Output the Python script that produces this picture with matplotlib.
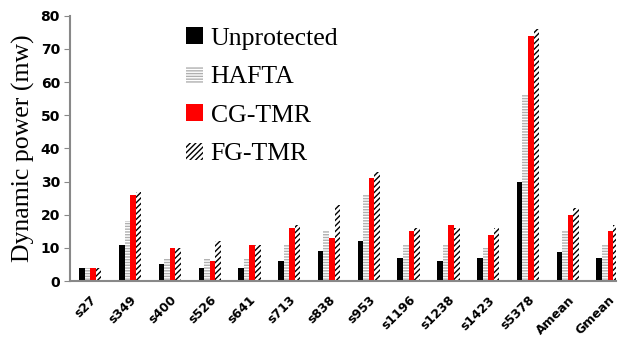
import numpy as np
import matplotlib.pyplot as plt

circuits = ['s27', 's349', 's400', 's526', 's641', 's713', 's838', 's953',
            's1196', 's1238', 's1423', 's5378', 'Amean', 'Gmean']
unprot = [4, 11, 5, 4, 4, 6, 9, 12, 7, 6, 7, 30, 8.7, 7]
hafta = [4, 18, 7, 7, 7, 11, 15, 26, 11, 11, 10, 56, 15, 11]
cg_tmr = [4, 26, 10, 6, 11, 16, 13, 31, 15, 17, 14, 74, 20, 15]
fg_tmr = [4, 27, 10, 12, 11, 17, 23, 33, 16, 16, 16, 76, 22, 17]

plt.rcParams['hatch.linewidth'] = 1.0

fig = plt.figure(figsize=(6.23, 3.37), dpi=100)
ax = fig.add_axes([0.113, 0.166, 0.875, 0.787])

x = np.arange(len(circuits))
w = 0.14

ax.bar(x - 1.5 * w, unprot, w, color='black', label='Unprotected')
ax.bar(x - 0.5 * w, hafta, w, color='white', edgecolor='#b0b0b0',
       hatch='------', linewidth=0, label='HAFTA')
ax.bar(x + 0.5 * w, cg_tmr, w, color='#ff0000', label='CG-TMR')
ax.bar(x + 1.5 * w, fg_tmr, w, color='white', edgecolor='black',
       hatch='//////', linewidth=0, label='FG-TMR')

ax.set_ylim(0, 80)
ax.set_xlim(-0.5, len(circuits) - 0.8)
ax.set_yticks(range(0, 81, 10))
ax.set_xticks(x)
ax.set_xticklabels(circuits, rotation=45, ha='right', rotation_mode='anchor',
                   fontweight='bold', fontsize=9)
for lab in ax.get_yticklabels():
    lab.set_fontweight('bold')
    lab.set_fontsize(10)
ax.tick_params(axis='x', length=0, pad=9)
ax.tick_params(axis='y', length=4, color='#888888')

for s in ['top', 'right']:
    ax.spines[s].set_visible(False)
ax.spines['left'].set_color('#888888')
ax.spines['bottom'].set_color('#888888')
ax.spines['left'].set_linewidth(1.5)
ax.spines['bottom'].set_linewidth(1.5)

ax.set_ylabel('Dynamic power (mw)', family='Liberation Serif', fontsize=18.5,
              labelpad=4)

ax.legend(loc='upper left', bbox_to_anchor=(0.17, 1.045), frameon=False,
          prop={'family': 'Liberation Serif', 'size': 18.5},
          handlelength=0.65, handleheight=0.65, handletextpad=0.3,
          labelspacing=0.62)

fig.savefig('out.png', dpi=100)
